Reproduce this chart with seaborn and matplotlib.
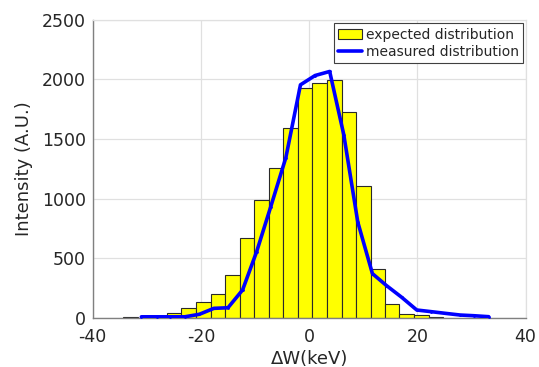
import numpy as np
import pandas as pd
import matplotlib
matplotlib.use('Agg')
import matplotlib.pyplot as plt
import seaborn as sns
from matplotlib.patches import Patch
from matplotlib.lines import Line2D

# expected distribution (histogram), bin edges in keV and counts per bin
bin_edges = [-34.4, -31.7, -29.0, -26.3, -23.6, -20.9, -18.2, -15.5, -12.8, -10.1,
             -7.4, -4.75, -2.1, 0.6, 3.3, 6.0, 8.65, 11.35, 14.0, 16.7, 19.4, 22.1, 24.8]
expected = [5, 4, 8, 39, 81, 134, 201, 363, 674, 987,
            1260, 1597, 1932, 1974, 1997, 1731, 1105, 414, 115, 30, 22, 8]

# measured distribution (line)
meas_x = [-31.0, -28.2, -25.7, -23.0, -20.3, -17.6, -15.0, -12.3, -9.7, -7.1,
          -4.3, -1.6, 1.1, 3.8, 6.4, 9.0, 11.7, 14.3, 17.1, 19.9,
          22.6, 25.2, 27.9, 30.5, 33.2]
measured = [10, 10, 10, 10, 31, 81, 86, 235, 556, 932,
            1345, 1955, 2033, 2067, 1538, 803, 372, 272, 174, 67,
            53, 39, 25, 19, 11]

centers = [(a + b) / 2 for a, b in zip(bin_edges[:-1], bin_edges[1:])]
hist_df = pd.DataFrame({'dw': centers, 'n': expected})
line_df = pd.DataFrame({'dw': meas_x, 'n': measured})

sns.set_style('white')
plt.rcParams['font.family'] = ['DejaVu Sans']
plt.rcParams['axes.unicode_minus'] = False
txt = '#262626'

fig, ax = plt.subplots(figsize=(5.39, 3.67), dpi=100)
fig.subplots_adjust(left=0.172, right=0.975, bottom=0.1335, top=0.946)

sns.histplot(data=hist_df, x='dw', weights='n', bins=bin_edges, ax=ax,
             color='#ffff00', alpha=1, edgecolor='#2a2a2a', linewidth=0.8, zorder=2)
sns.lineplot(data=line_df, x='dw', y='n', ax=ax, color='#0000ff', linewidth=2.6,
             marker='.', markersize=4, markeredgewidth=0, zorder=3)

ax.set_xlim(-40, 40)
ax.set_ylim(0, 2500)
ax.set_xticks([-40, -20, 0, 20, 40])
ax.set_yticks([0, 500, 1000, 1500, 2000, 2500])
ax.grid(True, color='#e0e0e0', linewidth=0.9, zorder=0)
ax.set_axisbelow(True)

for s in ['left', 'bottom']:
    ax.spines[s].set_color('#808080')
    ax.spines[s].set_linewidth(1.0)
for s in ['top', 'right']:
    ax.spines[s].set_color('#e0e0e0')
    ax.spines[s].set_linewidth(0.9)

ax.tick_params(axis='both', direction='in', length=4, width=0.8, color='#808080',
               labelsize=12.5, labelcolor=txt)
ax.tick_params(axis='x', pad=7)
ax.tick_params(axis='y', pad=5)
ax.set_xlabel('ΔW(keV)', fontsize=13, color=txt, labelpad=3)
ax.set_ylabel('Intensity (A.U.)', fontsize=13, color=txt, labelpad=6)

handles = [Patch(facecolor='#ffff00', edgecolor='#2a2a2a', linewidth=0.8),
           Line2D([0], [0], color='#0000ff', linewidth=2.6)]
leg = ax.legend(handles, ['expected distribution', 'measured distribution'],
                loc='upper right', bbox_to_anchor=(1.0, 0.995), fontsize=10,
                frameon=True, fancybox=False, framealpha=1, edgecolor='#404040',
                borderpad=0.3, labelspacing=0.25, handlelength=1.7, handletextpad=0.3,
                borderaxespad=0.15)
leg.get_frame().set_linewidth(0.8)
for t in leg.get_texts():
    t.set_color(txt)

fig.savefig('out.png', dpi=100)
